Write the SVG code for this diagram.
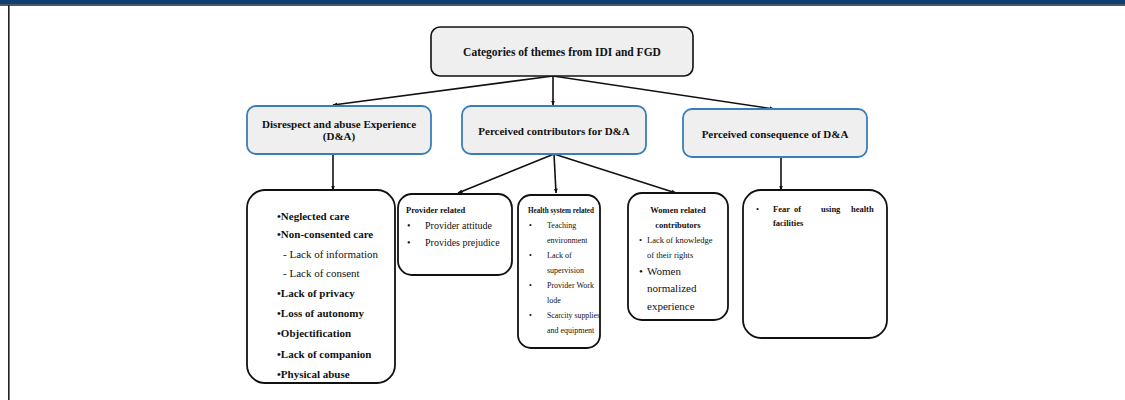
<svg xmlns="http://www.w3.org/2000/svg" width="1125" height="400" viewBox="0 0 1125 400">
<defs>
<marker id="ah" viewBox="0 0 10 10" refX="9" refY="5" markerWidth="5" markerHeight="5" orient="auto" markerUnits="userSpaceOnUse">
<path d="M0,1 L10,5 L0,9 z" fill="#111"/>
</marker>
</defs>
<style>
text{font-family:"Liberation Serif","Times New Roman",serif;fill:#111}
.b{font-weight:bold}
.top{fill:#efefef;stroke:#111;stroke-width:1.6}
.cat{fill:#efefef;stroke:#3b7db8;stroke-width:1.8}
.box{fill:#fff;stroke:#111;stroke-width:1.8}
.con{stroke:#111;stroke-width:1.6;fill:none;marker-end:url(#ah)}
</style>
<rect x="0" y="0" width="1125" height="400" fill="#fff"/>
<rect x="0" y="0" width="1125" height="4.5" fill="#0f3f72"/>
<rect x="0" y="4.5" width="1125" height="1.2" fill="#111"/>
<rect x="8" y="5" width="1.6" height="395" fill="#222"/>

<g id="connectors">
<path class="con" d="M553,76 L333,105"/>
<path class="con" d="M553,76 L553,105"/>
<path class="con" d="M553,76 L774,109"/>
<path class="con" d="M333,154 L333,190"/>
<path class="con" d="M554,154 L458,193"/>
<path class="con" d="M554,154 L556,193"/>
<path class="con" d="M554,154 L676,193"/>
<path class="con" d="M781,157 L781,190"/>
</g>

<g id="root">
<rect class="top" x="431" y="27" width="262" height="49" rx="9"/>
<text class="b" x="562" y="56" font-size="11.5" text-anchor="middle">Categories of themes  from  IDI and FGD</text>
</g>

<g id="experience">
<rect class="cat" x="247" y="106" width="184" height="48" rx="9"/>
<text class="b" x="339" y="128" font-size="11" text-anchor="middle">Disrespect  and abuse Experience</text>
<text class="b" x="339" y="140" font-size="11" text-anchor="middle">(D&amp;A)</text>
</g>

<g id="contributors">
<rect class="cat" x="462" y="106" width="184" height="48" rx="9"/>
<text class="b" x="554" y="135" font-size="11" text-anchor="middle">Perceived contributors  for D&amp;A</text>
</g>

<g id="consequence">
<rect class="cat" x="683" y="109" width="184" height="48" rx="9"/>
<text class="b" x="775" y="138" font-size="11" text-anchor="middle">Perceived consequence  of D&amp;A</text>
</g>

<g id="experience-list">
<rect class="box" x="247" y="190" width="148" height="193" rx="18"/>
<g font-size="11">
<text class="b" x="277" y="220">•Neglected care</text>
<text class="b" x="277" y="238">•Non-consented care</text>
<text x="283" y="258">- Lack  of information</text>
<text x="283" y="277">- Lack  of consent</text>
<text class="b" x="277" y="297">•Lack of privacy</text>
<text class="b" x="277" y="317">•Loss of autonomy</text>
<text class="b" x="277" y="337">•Objectification</text>
<text class="b" x="277" y="358">•Lack of companion</text>
<text class="b" x="277" y="378">•Physical abuse</text>
</g>
</g>

<g id="provider">
<rect class="box" x="398" y="194" width="114" height="81" rx="14"/>
<text class="b" x="406" y="213" font-size="8.5">Provider  related</text>
<g font-size="10">
<text x="407" y="229">•</text>
<text x="425" y="229">Provider attitude</text>
<text x="407" y="246">•</text>
<text x="425" y="246">Provides prejudice</text>
</g>
</g>

<g id="health">
<rect class="box" x="518" y="195" width="82" height="153" rx="13"/>
<text class="b" x="528" y="213" font-size="8" textLength="66" lengthAdjust="spacingAndGlyphs">Health system related</text>
<g font-size="8">
<text x="529" y="228">•</text><text x="547" y="228">Teaching</text>
<text x="547" y="243">environment</text>
<text x="529" y="258">•</text><text x="547" y="258">Lack of</text>
<text x="547" y="273">supervision</text>
<text x="529" y="288">•</text><text x="547" y="288">Provider  Work</text>
<text x="547" y="303">lode</text>
<text x="529" y="318">•</text><text x="547" y="318" textLength="53" lengthAdjust="spacingAndGlyphs">Scarcity  supplies</text>
<text x="547" y="333">and equipment</text>
</g>
</g>

<g id="women">
<rect class="box" x="628" y="193" width="100" height="127" rx="14"/>
<text class="b" x="678" y="213" font-size="8.5" text-anchor="middle">Women related</text>
<text class="b" x="678" y="228" font-size="8.5" text-anchor="middle">contributors</text>
<text x="639" y="243" font-size="8.5">•</text>
<text x="647" y="243" font-size="8.5">Lack  of  knowledge</text>
<text x="647" y="258" font-size="8.5">of their rights</text>
<text x="639" y="275" font-size="11">•</text>
<text x="647" y="275" font-size="11">Women</text>
<text x="647" y="292" font-size="11">normalized</text>
<text x="647" y="310" font-size="11">experience</text>
</g>

<g id="consequence-list">
<rect class="box" x="743" y="190" width="144" height="148" rx="18"/>
<text x="756" y="212" font-size="8.5">•</text>
<text class="b" font-size="8.5" y="212"><tspan x="773">Fear</tspan><tspan x="794">of</tspan><tspan x="821">using</tspan><tspan x="851">health</tspan></text>
<text class="b" x="773" y="226" font-size="8.5">facilities</text>
</g>
</svg>
